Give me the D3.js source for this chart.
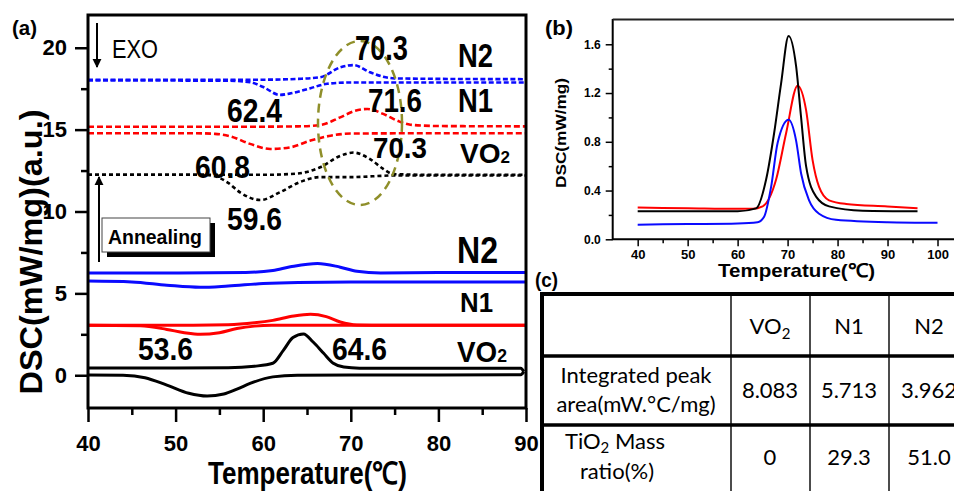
<!DOCTYPE html>
<html>
<head>
<meta charset="utf-8">
<script src="https://cdn.jsdelivr.net/npm/d3@7"></script>
<style>
body { margin: 0; background: #fff; }
svg { display: block; font-family: "Liberation Sans", Arial, sans-serif; }
</style>
</head>
<body>
<div id="drawing_region"></div>
<script>
// ---------- panel (a) : [temperature, DSC] ----------
// solid (as-prepared) curves
const vo2SolidDip  = [[40,0.02],[44,0.0],[46.5,-0.15],[49,-0.6],[51.5,-1.1],[53.6,-1.27],[55.5,-1.15],[57,-0.85],[58.5,-0.5],[61.1,-0.1],[63.9,0.0],[70,0.02],[80,0.02],[89.4,0.03],[89.75,0.22]];
const vo2SolidPeak = [[40,0.45],[50,0.45],[56,0.46],[59,0.55],[61.1,0.73],[62.3,1.52],[63.4,2.3],[64.6,2.52],[65.7,2.03],[66.9,1.34],[68,0.73],[69.2,0.5],[71,0.43],[80,0.42],[89.4,0.42],[89.75,0.22]];
const n1SolidDip   = [[40,3.05],[46,3.02],[49,2.8],[51,2.6],[52.8,2.5],[55,2.6],[57,2.85],[59,3.0],[61,3.05],[65,3.05],[90,3.05]];
const n1SolidPeak  = [[40,3.05],[52,3.05],[56,3.08],[59,3.2],[61.1,3.35],[63.5,3.62],[65.4,3.72],[67.2,3.58],[68.8,3.25],[70.7,3.07],[74,3.05],[90,3.05]];
const n2SolidDip   = [[40,5.75],[45,5.7],[49,5.5],[52.8,5.37],[56,5.45],[60,5.6],[64,5.67],[70,5.7],[80,5.7],[90,5.69]];
const n2SolidPeak  = [[40,6.24],[50,6.25],[58,6.28],[61.1,6.4],[63.1,6.62],[66.2,6.83],[68.8,6.6],[70.7,6.35],[73.4,6.25],[80,6.28],[90,6.28]];
// dashed (annealed) curves
const vo2DashDip   = [[40,12.24],[53,12.24],[54.3,12.18],[56,11.75],[57.4,11.15],[59.7,10.7],[61.9,11.17],[64.2,11.8],[66.5,12.1],[70,12.1],[75,12.2],[90,12.2]];
const vo2DashPeak  = [[40,12.24],[60,12.24],[63.9,12.32],[66.5,12.7],[68.8,13.4],[70.3,13.6],[72.2,13.2],[73.7,12.6],[74.9,12.28],[80,12.24],[90,12.24]];
const n1DashDip    = [[40,14.78],[52,14.78],[54.5,14.74],[56.2,14.6],[58.5,14.13],[60.8,13.82],[63.1,13.92],[65.4,14.33],[67.7,14.63],[70,14.76],[80,14.78],[90,14.78]];
const n1DashPeak   = [[40,15.18],[60,15.18],[64,15.2],[66.5,15.28],[68.8,15.75],[70.5,16.15],[71.9,16.26],[73.7,15.96],[75.3,15.55],[76.8,15.3],[80,15.22],[90,15.2]];
const n2DashDip    = [[40,18.0],[56,17.99],[58.5,17.9],[60,17.6],[61.9,17.12],[63,17.2],[65.4,17.53],[67.3,17.8],[70,17.88],[80,17.88],[90,17.88]];
const n2DashPeak   = [[40,18.05],[60,18.05],[64,18.1],[66.5,18.2],[68.8,18.8],[70.3,18.94],[72.2,18.5],[73.7,18.23],[75,18.13],[80,18.1],[90,18.08]];

const aXTicks = [40, 50, 60, 70, 80, 90];
const aXMinor = [45, 55, 65, 75, 85];
const aYTicks = [0, 5, 10, 15, 20];
const aYMinor = [2.5, 7.5, 12.5, 17.5];

// ---------- panel (b) : [temperature, DSC] ----------
const bVO2 = [[40,0.23],[50,0.23],[60,0.23],[63.7,0.254],[65.7,0.49],[67.3,0.87],[68.7,1.28],[70.2,1.668],[71.7,1.42],[72.7,1.0],[73.7,0.6],[75.7,0.35],[78.3,0.27],[85,0.235],[96,0.23]];
const bN1  = [[40,0.26],[50,0.255],[60,0.25],[63,0.25],[65,0.27],[67.7,0.49],[69.7,0.87],[72.0,1.26],[73.7,1.06],[75,0.65],[76.3,0.43],[78.3,0.32],[81.7,0.29],[90,0.27],[96,0.255]];
const bN2  = [[40,0.12],[50,0.125],[60,0.13],[64,0.14],[65.3,0.185],[66.7,0.43],[68,0.79],[70.2,0.98],[71.7,0.81],[72.7,0.54],[74.3,0.32],[76.3,0.21],[79.7,0.16],[90,0.14],[100,0.135]];
const bXTicks = [40, 50, 60, 70, 80, 90, 100];
const bXMinor = [45, 55, 65, 75, 85, 95];
const bYTicks = [0, 0.4, 0.8, 1.2, 1.6];
const bYMinor = [0.2, 0.6, 1.0, 1.4];

// ---------- panel (c) table ----------
const tableHeads = ["VO", "N1", "N2"];
const peakArea   = ["8.083", "5.713", "3.962"];
const tio2Ratio  = ["0", "29.3", "51.0"];

const svg = d3.select('#drawing_region').append('svg')
    .attr('width', 954).attr('height', 491);

// ================= panel (a) =================
const ax = d3.scaleLinear().domain([40, 90]).range([88, 526]);
const ay = d3.scaleLinear().domain([-2, 22]).range([408, 15]);
const aLine = d3.line().x(d => ax(d[0])).y(d => ay(d[1])).curve(d3.curveMonotoneX);

const pa = svg.append('g');

function styleAxis(g, size) {
    g.select('.domain').remove();
    g.selectAll('line').attr('stroke', '#000').attr('stroke-width', 2.5);
    g.selectAll('text').attr('font-size', size).attr('font-weight', 'bold')
        .attr('font-family', '"Liberation Sans", Arial, sans-serif').attr('fill', '#000');
}

pa.append('g').attr('transform', 'translate(0,408)')
    .call(d3.axisBottom(ax).tickValues(aXTicks).tickSize(14).tickPadding(13))
    .call(g => styleAxis(g, 22));
pa.append('g').attr('transform', 'translate(0,408)')
    .call(d3.axisBottom(ax).tickValues(aXMinor).tickSize(7).tickFormat(''))
    .call(g => styleAxis(g, 22));
pa.append('g').attr('transform', 'translate(88,0)')
    .call(d3.axisLeft(ay).tickValues(aYTicks).tickSize(13).tickPadding(8))
    .call(g => styleAxis(g, 22));
pa.append('g').attr('transform', 'translate(88,0)')
    .call(d3.axisLeft(ay).tickValues(aYMinor).tickSize(7).tickFormat(''))
    .call(g => styleAxis(g, 22));

const aCurves = [
    {d: vo2SolidDip,  c: '#000', dash: null},
    {d: vo2SolidPeak, c: '#000', dash: null},
    {d: n1SolidDip,   c: '#ff0000', dash: null},
    {d: n1SolidPeak,  c: '#ff0000', dash: null},
    {d: n2SolidDip,   c: '#0a0aff', dash: null},
    {d: n2SolidPeak,  c: '#0a0aff', dash: null},
    {d: vo2DashDip,   c: '#000', dash: '4,3'},
    {d: vo2DashPeak,  c: '#000', dash: '4,3'},
    {d: n1DashDip,    c: '#ff0000', dash: '6,3'},
    {d: n1DashPeak,   c: '#ff0000', dash: '6,3'},
    {d: n2DashDip,    c: '#0a0aff', dash: '5,2.5'},
    {d: n2DashPeak,   c: '#0a0aff', dash: '5,2.5'}
];
pa.selectAll('path.curve').data(aCurves).join('path')
    .attr('class', 'curve')
    .attr('d', d => aLine(d.d))
    .attr('fill', 'none')
    .attr('stroke', d => d.c)
    .attr('stroke-width', d => d.dash ? 2.6 : 3)
    .attr('stroke-dasharray', d => d.dash);

// frame
pa.append('rect').attr('x', 88).attr('y', 15).attr('width', 438).attr('height', 393)
    .attr('fill', 'none').attr('stroke', '#000').attr('stroke-width', 3);

// dashed ellipse round the 70 °C peaks
pa.append('ellipse').attr('cx', 360).attr('cy', 123).attr('rx', 42).attr('ry', 82)
    .attr('fill', 'none').attr('stroke', '#8f8f2a').attr('stroke-width', 2.5)
    .attr('stroke-dasharray', '9,6');

// arrows
const defs = svg.append('defs');
defs.append('marker').attr('id', 'head').attr('viewBox', '0 0 10 10')
    .attr('refX', 9).attr('refY', 5).attr('markerWidth', 9).attr('markerHeight', 18)
    .attr('markerUnits', 'userSpaceOnUse').attr('orient', 'auto')
    .append('path').attr('d', 'M0,0 L10,5 L0,10 Z').attr('fill', '#000');
pa.append('line').attr('x1', 97).attr('y1', 23).attr('x2', 97).attr('y2', 67)
    .attr('stroke', '#000').attr('stroke-width', 2).attr('marker-end', 'url(#head)');
pa.append('line').attr('x1', 99).attr('y1', 262).attr('x2', 99).attr('y2', 177)
    .attr('stroke', '#000').attr('stroke-width', 2).attr('marker-end', 'url(#head)');

// Annealing box
pa.append('rect').attr('x', 107).attr('y', 223).attr('width', 108).attr('height', 34).attr('fill', '#000');
pa.append('rect').attr('x', 102).attr('y', 218).attr('width', 108).attr('height', 34)
    .attr('fill', '#fff').attr('stroke', '#444').attr('stroke-width', 1);

function label(g, txt, x, y, size, len, weight) {
    return g.append('text').attr('x', x).attr('y', y)
        .attr('font-size', size).attr('font-weight', weight || 'bold')
        .attr('textLength', len).attr('lengthAdjust', 'spacingAndGlyphs')
        .text(txt);
}

label(pa, 'Annealing', 108, 244, 21, 94);
label(pa, 'EXO', 112, 58, 25, 46, 'normal');

const aLabels = [
    ['70.3', 355, 60, 35, 53], ['N2', 458, 67, 33, 35],
    ['71.6', 368, 112, 33, 54], ['N1', 458, 112, 33, 35],
    ['62.4', 227, 122, 33, 55], ['70.3', 373, 158, 29, 54],
    ['60.8', 195, 178, 31, 55], ['59.6', 227, 230, 32, 55],
    ['N2', 457, 263, 36, 41], ['N1', 460, 312, 28, 33],
    ['64.6', 332, 360, 31, 55], ['53.6', 138, 360, 31, 55]
];
aLabels.forEach(l => label(pa, l[0], l[1], l[2], l[3], l[4]));

// "VO2" labels with a small 2
[[460, 163, 28, 50, 17], [457, 362, 30, 50, 19]].forEach(v => {
    const t = label(pa, tableHeads[0], v[0], v[1], v[2], v[3]);
    t.append('tspan').attr('font-size', v[4]).text('2');
});

label(pa, '(a)', 12, 35, 20, 25);
label(pa, 'Temperature(℃)', 208, 484, 31, 199);
pa.append('text').attr('transform', 'translate(42,252) rotate(-90)')
    .attr('text-anchor', 'middle').attr('font-size', 32).attr('font-weight', 'bold')
    .attr('textLength', 285).attr('lengthAdjust', 'spacingAndGlyphs')
    .text('DSC(mW/mg)(a.u.)');

// ================= panel (b) =================
const bx = d3.scaleLinear().domain([35, 103.3]).range([612.7, 954]);
const by = d3.scaleLinear().domain([0, 1.8]).range([239.3, 19.9]);
const bLine = d3.line().x(d => bx(d[0])).y(d => by(d[1])).curve(d3.curveMonotoneX);
const pb = svg.append('g');

pb.append('g').attr('transform', 'translate(0,239.3)')
    .call(d3.axisBottom(bx).tickValues(bXTicks).tickSize(7).tickPadding(3))
    .call(g => styleAxis(g, 13));
pb.append('g').attr('transform', 'translate(0,239.3)')
    .call(d3.axisBottom(bx).tickValues(bXMinor).tickSize(4).tickFormat(''))
    .call(g => styleAxis(g, 13));
pb.append('g').attr('transform', 'translate(612.7,0)')
    .call(d3.axisLeft(by).tickValues(bYTicks).tickSize(7).tickPadding(5).tickFormat(d3.format('.1f')))
    .call(g => styleAxis(g, 12));
pb.append('g').attr('transform', 'translate(612.7,0)')
    .call(d3.axisLeft(by).tickValues(bYMinor).tickSize(4).tickFormat(''))
    .call(g => styleAxis(g, 12));
pb.selectAll('g line').attr('stroke-width', 1.5);

pb.append('path').attr('d', 'M612.7,19 L612.7,239.3 L954,239.3')
    .attr('fill', 'none').attr('stroke', '#000').attr('stroke-width', 2);
pb.append('line').attr('x1', 612.7).attr('x2', 954).attr('y1', 19.5).attr('y2', 19.5)
    .attr('stroke', '#222').attr('stroke-width', 2);

const bCurves = [
    {d: bN1, c: '#ff0000'},
    {d: bVO2, c: '#000'},
    {d: bN2, c: '#0a0aff'}
];
pb.selectAll('path.curve').data(bCurves).join('path')
    .attr('class', 'curve')
    .attr('d', d => bLine(d.d))
    .attr('fill', 'none').attr('stroke', d => d.c).attr('stroke-width', 2);

label(pb, '(b)', 545, 35, 20, 28);
label(pb, 'Temperature(℃)', 718, 277, 19, 157);
pb.append('text').attr('transform', 'translate(566,133) rotate(-90)')
    .attr('text-anchor', 'middle').attr('font-size', 15).attr('font-weight', 'bold')
    .attr('textLength', 110).attr('lengthAdjust', 'spacingAndGlyphs')
    .text('DSC(mW/mg)');

// ================= panel (c) =================
const pc = svg.append('g').attr('font-family', 'Lato, "Open Sans", sans-serif').attr('fill', '#000');
label(pc, '(c)', 535, 287, 20, 23).attr('font-family', '"Liberation Sans", Arial, sans-serif');

const colX = [542, 731, 810, 889, 968];
const rowY = [294, 356, 425, 500];
const colMid = [770, 849, 929];

pc.selectAll('line.v').data(colX.slice(1, 4)).join('line')
    .attr('x1', d => d).attr('x2', d => d).attr('y1', rowY[0]).attr('y2', 491)
    .attr('stroke', '#111').attr('stroke-width', 1.5);
pc.selectAll('line.h').data(rowY.slice(1, 3)).join('line')
    .attr('x1', colX[0]).attr('x2', 954).attr('y1', d => d).attr('y2', d => d)
    .attr('stroke', '#000').attr('stroke-width', 3.5);
pc.append('path').attr('d', `M${colX[0]},491 L${colX[0]},${rowY[0]} L954,${rowY[0]}`)
    .attr('fill', 'none').attr('stroke', '#000').attr('stroke-width', 4);

function cell(txt, x, y) {
    return pc.append('text').attr('x', x).attr('y', y).attr('text-anchor', 'middle')
        .attr('font-size', 22).text(txt);
}
// header
const vo2Head = cell(tableHeads[0], colMid[0], 334);
vo2Head.append('tspan').attr('font-size', 15).attr('dy', 5).text('2');
cell(tableHeads[1], colMid[1], 334);
cell(tableHeads[2], colMid[2], 334);
// row 1
cell('Integrated peak', 636, 383);
cell('area(mW.\u00B0C/mg)', 636, 412);
peakArea.forEach((v, i) => cell(v, colMid[i], 398));
// row 2
const tio = cell('TiO', 565, 449).attr('text-anchor', 'start');
tio.append('tspan').attr('font-size', 15).attr('dy', 4).text('2');
tio.append('tspan').attr('dy', -4).text(' Mass');
cell('ratio(%)', 617, 479);
tio2Ratio.forEach((v, i) => cell(v, colMid[i], 465));
</script>
</body>
</html>
